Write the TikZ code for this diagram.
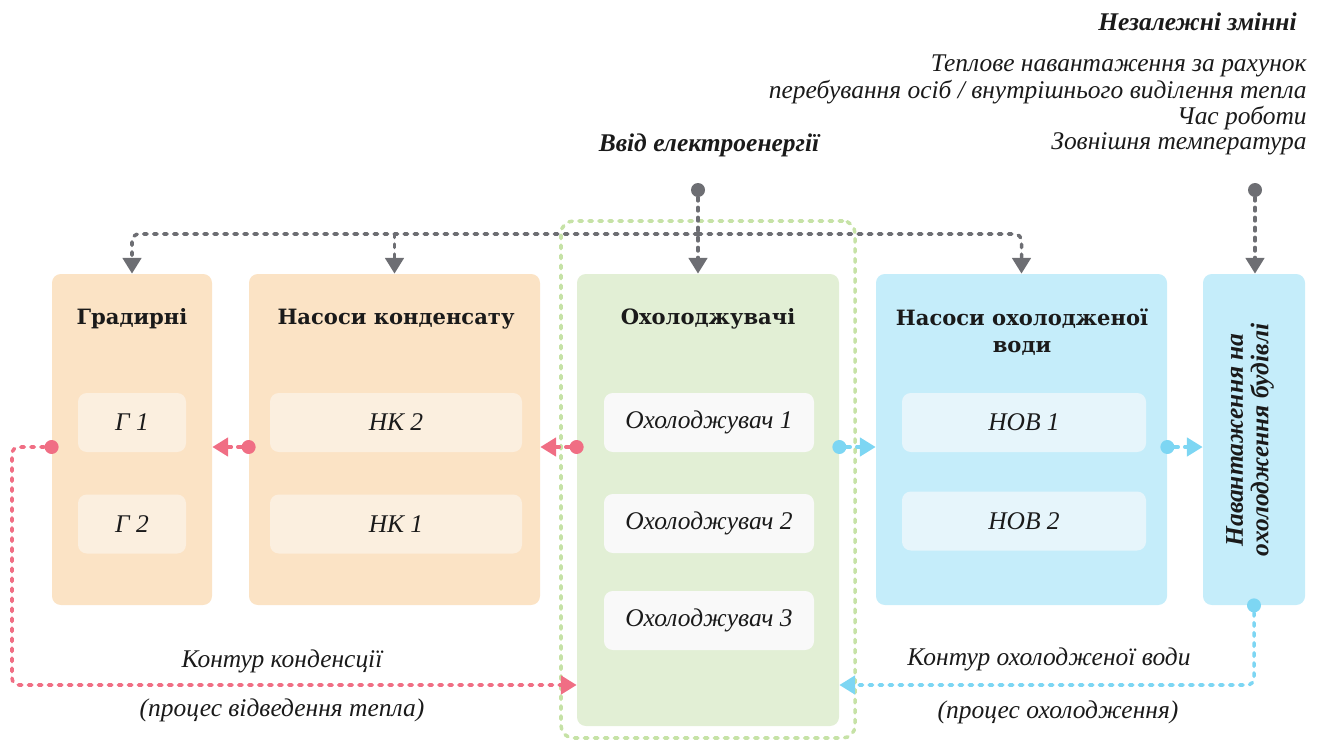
\documentclass[tikz,border=0pt]{standalone}
\usepackage{fontspec}
\setmainfont{Liberation Serif}
\newfontfamily\headfont{DejaVu Serif}
\usetikzlibrary{arrows.meta,positioning}

\definecolor{peach}{HTML}{FBE3C5}
\definecolor{peachin}{HTML}{FBEFDF}
\definecolor{mint}{HTML}{E2EFD5}
\definecolor{mintin}{HTML}{F9F9F9}
\definecolor{sky}{HTML}{C5EDFA}
\definecolor{skyin}{HTML}{E6F5FB}
\definecolor{frameg}{HTML}{C6E2A6}
\definecolor{wire}{HTML}{6D6E73}
\definecolor{rose}{HTML}{F06E84}
\definecolor{aqua}{HTML}{7DD6F3}
\definecolor{ink}{HTML}{1A1A1A}

\tikzset{
  panel/.style 2 args={rounded corners=5pt, inner sep=0pt,
    minimum width=#1*0.02cm, minimum height=#2*0.02cm},
  title/.style={font=\headfont\bfseries\fontsize{12}{17}\selectfont, text=ink, align=center},
  tag/.style={font=\itshape\fontsize{14.5}{16}\selectfont, text=ink},
  dotline/.style={line width=2pt, line cap=round, dash pattern=on 2pt off 3.7pt,
    -{Triangle[width=10.5pt,length=9pt]}},
  dot/.style={circle, fill=#1, minimum size=14*0.02cm, inner sep=0pt},
}

\begin{document}
\begin{tikzpicture}[x=0.02cm, y=-0.02cm]
\useasboundingbox (0,0) rectangle (1329,740);

% --- Green frame round the chillers ---
\node[draw=frameg, line width=2pt, line cap=round, dash pattern=on 2pt off 3.7pt,
  rounded corners=7pt, minimum width=294*0.02cm, minimum height=517*0.02cm]
  (frame) at (708,479.5) {};

% --- Main boxes ---
\node[panel={160}{331}, fill=peach] (grad) at (132,439.5) {};
\node[panel={291}{331}, fill=peach] (nk) at (394.5,439.5) {};
\node[panel={262}{452}, fill=mint] (chill) at (708,500) {};
\node[panel={291}{331}, fill=sky] (nov) at (1021.5,439.5) {};
\node[panel={102}{331}, fill=sky] (load) at (1254,439.5) {};

% --- Titles ---
\node[title] (tgrad) at (132,319) {Градирні};
\node[title] (tnk) at (396,319) {Насоси конденсату};
\node[title] (tchill) at (708,319) {Охолоджувачі};
\node[title] (tnov) at (1022,332) {Насоси охолодженої\\[-2pt]води};
\node[font=\bfseries\itshape\fontsize{14.5}{14.5}\selectfont, text=ink, align=center,
  rotate=90] (tload) at (1250,440) {Навантаження на\\охолодження будівлі};

% --- Units ---
\node[panel={108}{59}, fill=peachin, tag] (g1) at (132,422.5) {Г 1};
\node[panel={108}{59}, fill=peachin, tag] (g2) at (132,524) {Г 2};
\node[panel={252}{59}, fill=peachin, tag] (nk2) at (396,422.5) {НК 2};
\node[panel={252}{59}, fill=peachin, tag] (nk1) at (396,524) {НК 1};
\node[panel={210}{59}, fill=mintin, tag] (ch1) at (709,422.5) {Охолоджувач 1};
\node[panel={210}{59}, fill=mintin, tag] (ch2) at (709,523.5) {Охолоджувач 2};
\node[panel={210}{59}, fill=mintin, tag] (ch3) at (709,620.5) {Охолоджувач 3};
\node[panel={244}{59}, fill=skyin, tag] (nov1) at (1024,422.5) {НОВ 1};
\node[panel={244}{59}, fill=skyin, tag] (nov2) at (1024,521) {НОВ 2};

% --- Top texts ---
\node[tag, font=\bfseries\itshape\fontsize{14.5}{16}\selectfont] (power) at (709,145) {Ввід електроенергії};
\node[tag, font=\bfseries\itshape\fontsize{14.5}{16}\selectfont, anchor=east, inner sep=0pt] (vars) at (1297,22) {Незалежні змінні};
\node[tag, anchor=east, inner sep=0pt] (v1) at (1307,66) {Теплове навантаження за рахунок};
\node[tag, anchor=east, inner sep=0pt] (v2) at (1307,92) {перебування осіб / внутрішнього виділення тепла};
\node[tag, anchor=east, inner sep=0pt] (v3) at (1307,118) {Час роботи};
\node[tag, anchor=east, inner sep=0pt] (v4) at (1307,144) {Зовнішня температура};

% --- Gray feeds ---
\node[dot=wire] (pw) at (698,190) {};
\node[dot=wire] (iv) at (1255,190) {};
\coordinate (bus) at (698,234);
\draw[dotline, wire] (pw) -- (pw |- chill.north);
\draw[dotline, wire, rounded corners=4pt] (bus) -| (grad.north);
\draw[dotline, wire, rounded corners=4pt] (bus) -| (nov.north);
\draw[dotline, wire] (nk.north |- bus) -- (nk.north);
\draw[dotline, wire] (iv) -- (iv |- load.north);

% --- Condenser loop ---
\coordinate (ret) at (708,685);
\coordinate (lturn) at (12,447);
\node[dot=rose] (p1) at (chill.west |- 0,447) {};
\node[dot=rose] (p2) at (nk.west |- 0,447) {};
\node[dot=rose] (p3) at (grad.west |- 0,447) {};
\draw[dotline, rose] (p1) -- (p1 -| nk.east);
\draw[dotline, rose] (p2) -- (p2 -| grad.east);
\draw[dotline, rose, rounded corners=4pt] (p3) -- (lturn) |- (ret -| chill.west);

% --- Chilled water loop ---
\node[dot=aqua] (b1) at (chill.east |- 0,447) {};
\node[dot=aqua] (b2) at (nov.east |- 0,447) {};
\node[dot=aqua] (b3) at (load.south) {};
\draw[dotline, aqua] (b1) -- (b1 -| nov.west);
\draw[dotline, aqua] (b2) -- (b2 -| load.west);
\draw[dotline, aqua, rounded corners=4pt] (b3) |- (ret -| chill.east);

% --- Loop labels ---
\node[tag] (lcond) at (282,661) {Контур конденсції};
\node[tag] (lcond2) at (282,710) {(процес відведення тепла)};
\node[tag] (lcw) at (1049,659) {Контур охолодженої води};
\node[tag] (lcw2) at (1058,712) {(процес охолодження)};

\end{tikzpicture}
\end{document}
